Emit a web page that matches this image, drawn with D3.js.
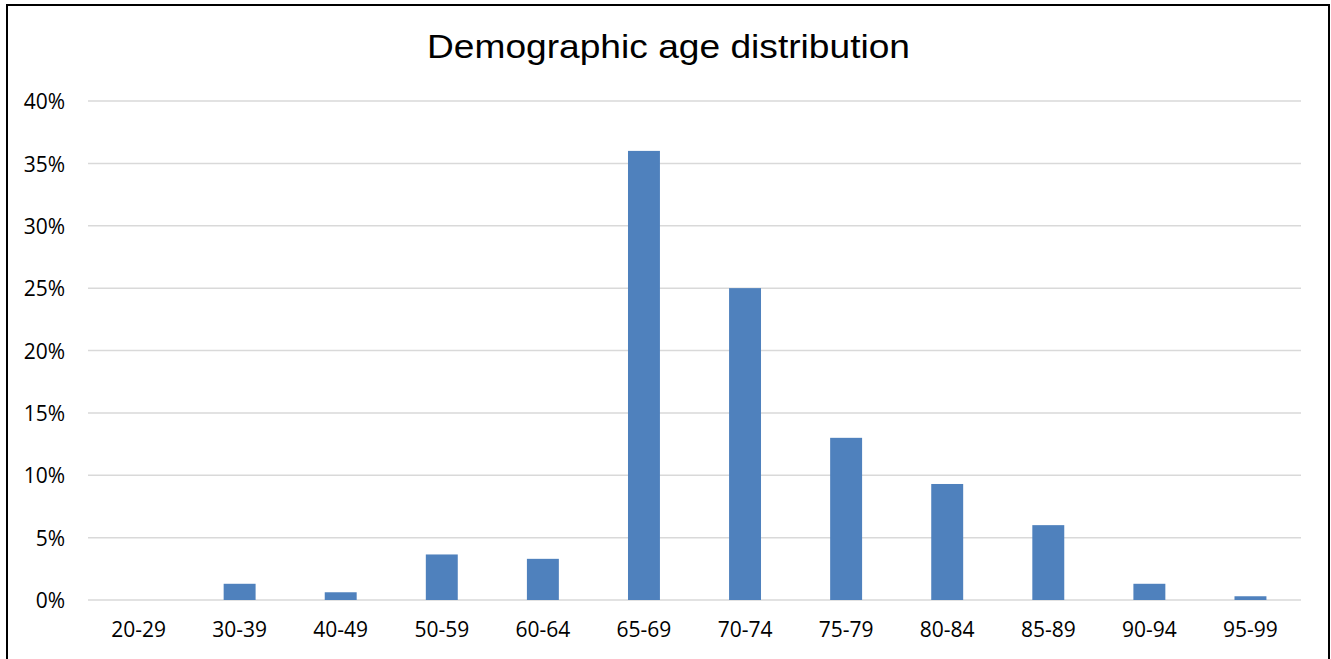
<!DOCTYPE html>
<html>
<head>
<meta charset="utf-8">
<script src="https://cdn.jsdelivr.net/npm/d3@7"></script>
<style>
  html, body { margin: 0; padding: 0; background: #fff; }
  svg { display: block; }
</style>
</head>
<body>
<svg id="chart" width="1331" height="659"></svg>
<script>
// Age bands and share of population in each band (%)
const ageGroups = ["20-29", "30-39", "40-49", "50-59", "60-64", "65-69", "70-74", "75-79", "80-84", "85-89", "90-94", "95-99"];
const shares = [0, 1.3, 0.62, 3.65, 3.3, 36, 25, 13, 9.3, 6, 1.3, 0.3];
const yTicks = [0, 5, 10, 15, 20, 25, 30, 35, 40];
const chartTitle = "Demographic age distribution";

const width = 1331, height = 659;
const margin = { top: 101, right: 30, bottom: 59, left: 88 };

const svg = d3.select("#chart");

// Outer frame
svg.append("rect")
  .attr("x", 7).attr("y", 5)
  .attr("width", 1322).attr("height", 680)
  .attr("fill", "#fff")
  .attr("stroke", "#000")
  .attr("stroke-width", 2);

const x = d3.scaleBand()
  .domain(ageGroups)
  .range([margin.left, width - margin.right])
  .paddingInner(0.684)
  .paddingOuter(0.342);

const y = d3.scaleLinear()
  .domain([0, 40])
  .range([height - margin.bottom, margin.top]);

// Horizontal gridlines
svg.append("g")
  .selectAll("line")
  .data(yTicks)
  .join("line")
  .attr("x1", margin.left)
  .attr("x2", width - margin.right)
  .attr("y1", d => y(d))
  .attr("y2", d => y(d))
  .attr("stroke", "#d9d9d9")
  .attr("stroke-width", 1.5);

// Bars
svg.append("g")
  .selectAll("rect")
  .data(ageGroups.map((g, i) => ({ g, v: shares[i] })))
  .join("rect")
  .attr("x", d => x(d.g))
  .attr("width", x.bandwidth())
  .attr("y", d => y(d.v))
  .attr("height", d => y(0) - y(d.v))
  .attr("fill", "#4f81bd");

// Y axis labels
const yAxis = svg.append("g")
  .attr("transform", `translate(${margin.left - 23},1)`)
  .call(d3.axisLeft(y).tickValues(yTicks).tickFormat(d => d + "%").tickSize(0).tickPadding(0));
yAxis.select(".domain").remove();
yAxis.selectAll("text")
  .attr("font-family", "'Open Sans', sans-serif")
  .attr("font-size", 21)
  .attr("fill", "#000");

// X axis labels
const xAxis = svg.append("g")
  .attr("transform", `translate(0,${height - margin.bottom})`)
  .call(d3.axisBottom(x).tickSize(0).tickPadding(22));
xAxis.select(".domain").remove();
xAxis.selectAll("text")
  .attr("font-family", "'Open Sans', sans-serif")
  .attr("font-size", 21)
  .attr("fill", "#000");

// Title
svg.append("text")
  .attr("x", 668.5)
  .attr("y", 58)
  .attr("text-anchor", "middle")
  .attr("font-family", "'Liberation Sans', Arial, sans-serif")
  .attr("font-size", 34)
  .attr("textLength", 483)
  .attr("lengthAdjust", "spacingAndGlyphs")
  .attr("fill", "#000")
  .text(chartTitle);
</script>
</body>
</html>
